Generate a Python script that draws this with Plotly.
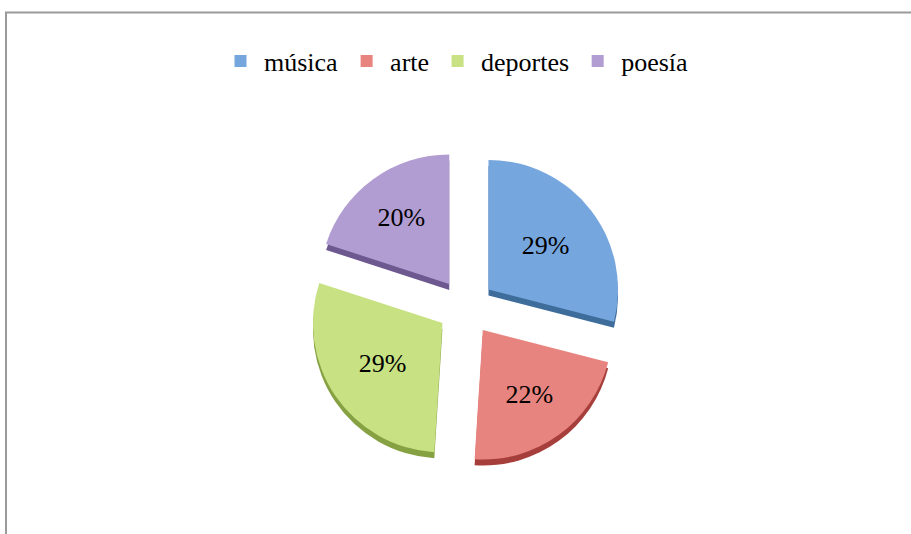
import plotly.graph_objects as go

labels = ["música", "arte", "deportes", "poesía"]
values = [29, 22, 29, 20]
colors = ["#76A6DE", "#E8847F", "#C8E283", "#B29DD2"]
edge_colors = ["#3E6D9C", "#A63F3B", "#85A142", "#6D5990"]

W, H = 911, 534
cx, cy, R = 466, 307, 158
pull = [0.22] * 4
shift = 6
SERIF = "Liberation Serif"
tfont = dict(family=SERIF, size=26, color="black")

fig = go.Figure()
# 3D edge (darker copy slightly lower)
fig.add_trace(go.Pie(
    labels=labels, values=values, sort=False, direction="clockwise", rotation=0,
    pull=pull, marker=dict(colors=edge_colors, line=dict(width=0)),
    textinfo="none", hoverinfo="skip", showlegend=False,
    domain=dict(x=[(cx - R) / W, (cx + R) / W], y=[1 - (cy + R + shift) / H, 1 - (cy - R + shift) / H]),
))
fig.add_trace(go.Pie(
    labels=labels, values=values, sort=False, direction="clockwise", rotation=0,
    pull=pull, marker=dict(colors=colors, line=dict(width=0)),
    textinfo="percent", textposition="inside",
    textfont=tfont,
    domain=dict(x=[(cx - R) / W, (cx + R) / W], y=[1 - (cy + R) / H, 1 - (cy - R) / H]),
))

fig.update_layout(
    width=W, height=H,
    margin=dict(l=0, r=0, t=0, b=0),
    paper_bgcolor="white", plot_bgcolor="white",
    font=tfont,
    legend=dict(orientation="h", x=0.5, xanchor="center", y=1 - 61 / H, yanchor="middle",
                itemwidth=37,
                font=tfont, bgcolor="rgba(0,0,0,0)"),
    shapes=[dict(type="rect", xref="paper", yref="paper",
                 x0=6 / W, x1=1.02, y0=-0.02, y1=1 - 12.5 / H,
                 line=dict(color="#9A9A9A", width=2), fillcolor="rgba(0,0,0,0)")],
)

fig.write_html("out.html", config={"displayModeBar": False},
               post_script="document.body.style.margin='0';")
